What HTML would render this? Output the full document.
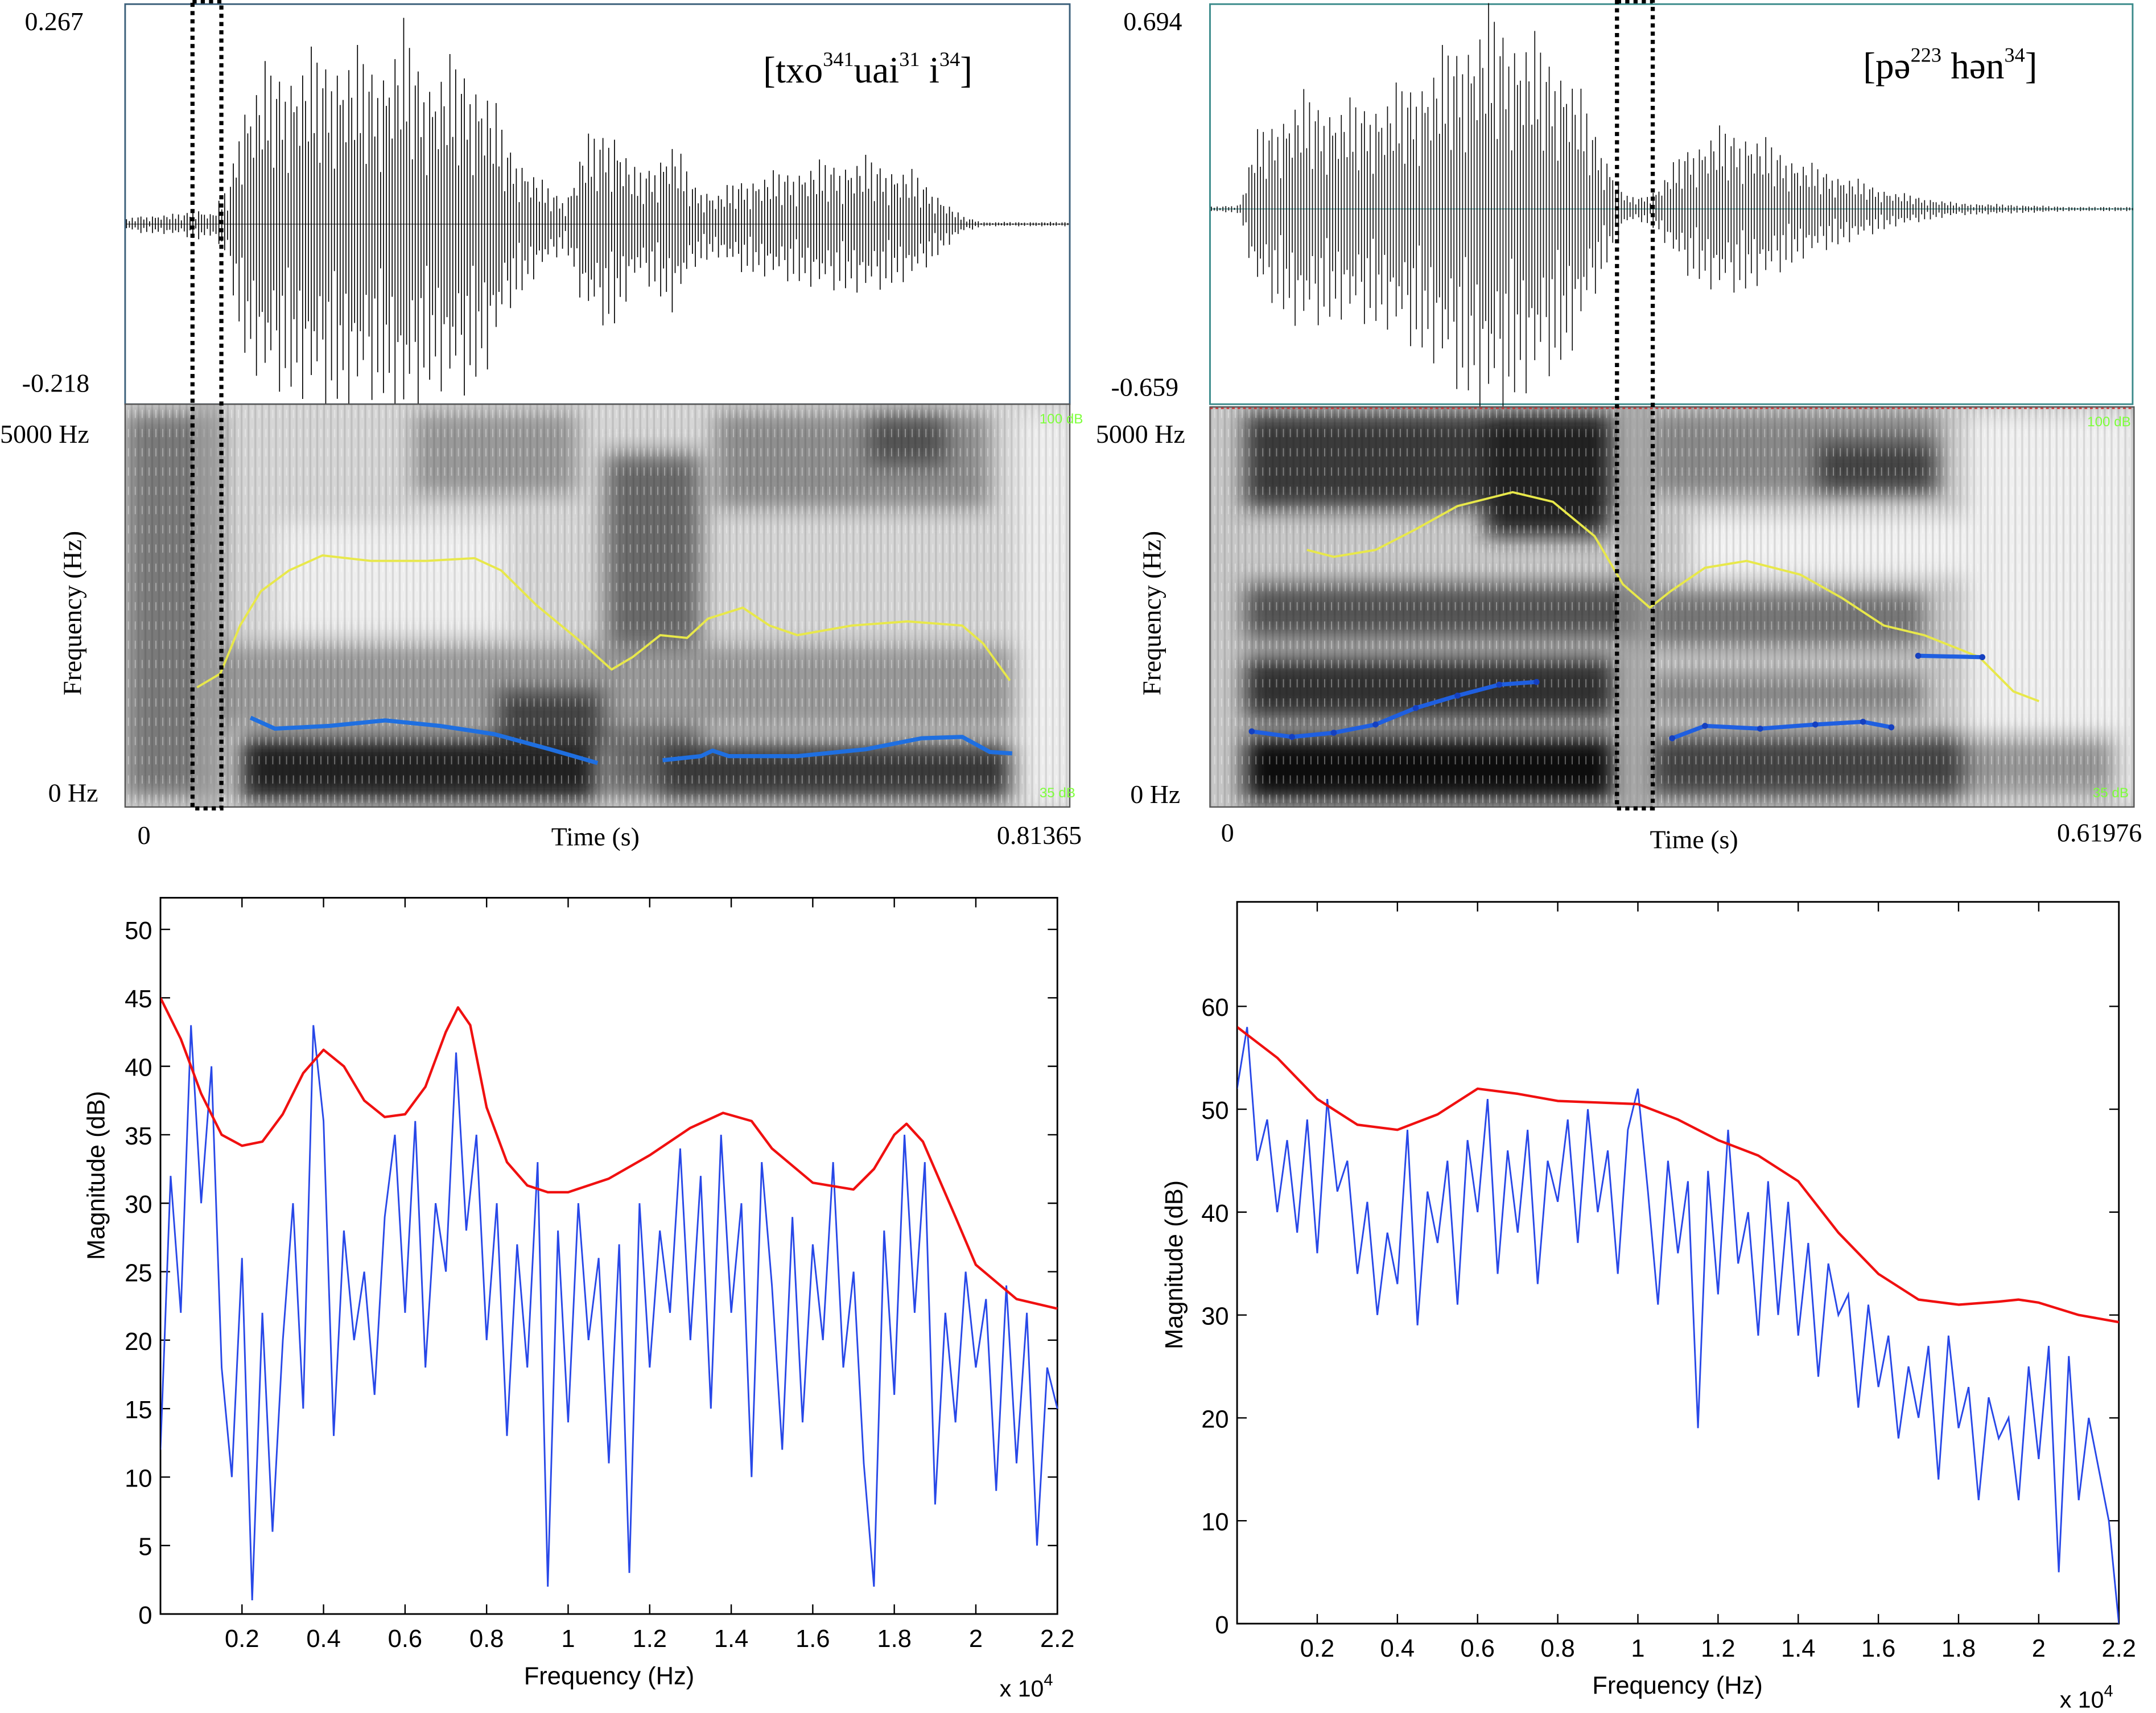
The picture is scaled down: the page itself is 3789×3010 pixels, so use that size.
<!DOCTYPE html>
<html><head><meta charset="utf-8">
<style>
html,body{margin:0;padding:0;background:#fff;}
svg{display:block;}
.serif{font-family:"Liberation Serif",serif;}
.sans{font-family:"Liberation Sans",sans-serif;}
</style></head>
<body>
<svg id="fig" width="3789" height="3010" viewBox="0 0 1568 1246" preserveAspectRatio="none" xmlns="http://www.w3.org/2000/svg">
<defs>
<filter id="blur6" x="-30%" y="-30%" width="160%" height="160%"><feGaussianBlur stdDeviation="8"/></filter>
<pattern id="stria" width="5" height="14" patternUnits="userSpaceOnUse">
<rect width="5" height="14" fill="none"/>
<rect x="0" y="0" width="1.4" height="14" fill="#000" opacity="0.1"/>
<rect x="3" y="4" width="0.8" height="6" fill="#fff" opacity="0.35"/>
</pattern>
<clipPath id="clipSL"><rect x="91" y="294" width="687" height="293"/></clipPath>
<clipPath id="clipSR"><rect x="880" y="296" width="672" height="291"/></clipPath>
<clipPath id="clipBL"><rect x="117" y="653" width="654" height="521"/></clipPath>
<clipPath id="clipBR"><rect x="900" y="656" width="641" height="525"/></clipPath>
</defs>

<g>
<rect x="91" y="3" width="687" height="291" fill="#fff" stroke="#3b5f7a" stroke-width="1.2"/>
<line x1="91" y1="163" x2="778" y2="163" stroke="#666" stroke-width="0.6"/>
<g id="wavL"></g>
<text x="18" y="22" font-size="19" class="serif">0.267</text>
<text x="16" y="285" font-size="19" class="serif">-0.218</text>
<text x="555" y="60" font-size="27" class="serif">[txo<tspan font-size="15" dy="-12">341</tspan><tspan dy="12">uai</tspan><tspan font-size="15" dy="-12">31</tspan><tspan dy="12"> i</tspan><tspan font-size="15" dy="-12">34</tspan><tspan dy="12">]</tspan></text>
</g>

<g>
<g clip-path="url(#clipSL)">
<rect x="91" y="294" width="687" height="293" fill="#d6d6d6"/>
<g filter="url(#blur6)">
<rect x="91" y="300" width="70" height="280" fill="#7a7a7a"/>
<rect x="300" y="300" width="120" height="60" fill="#9a9a9a"/>
<rect x="440" y="330" width="70" height="250" fill="#6a6a6a"/>
<rect x="520" y="300" width="200" height="70" fill="#8f8f8f"/>
<rect x="630" y="300" width="60" height="40" fill="#555"/>
<rect x="160" y="470" width="600" height="60" fill="#9a9a9a"/>
<rect x="175" y="535" width="260" height="48" fill="#202020"/>
<rect x="480" y="540" width="260" height="42" fill="#3a3a3a"/>
<rect x="360" y="500" width="80" height="40" fill="#444"/>
<rect x="200" y="380" width="170" height="80" fill="#efefef"/>
<rect x="740" y="300" width="40" height="285" fill="#eeeeee"/>
</g>
<rect x="91" y="294" width="687" height="293" fill="url(#stria)"/>
<rect x="140" y="294" width="21" height="293" fill="#aaa" opacity="0.6"/>
<g id="specL"></g>
</g>
<rect x="91" y="294" width="687" height="293" fill="none" stroke="#555" stroke-width="1"/>
<text x="756" y="308" font-size="10" fill="#7dff3a" class="sans">100 dB</text>
<text x="756" y="580" font-size="10" fill="#7dff3a" class="sans">35 dB</text>
<text x="0" y="322" font-size="19" class="serif">5000 Hz</text>
<text x="35" y="583" font-size="19" class="serif">0 Hz</text>
<text transform="translate(59,446) rotate(-90)" text-anchor="middle" font-size="19" class="serif">Frequency (Hz)</text>
<text x="100" y="614" font-size="19" class="serif">0</text>
<text x="433" y="615" font-size="19" text-anchor="middle" class="serif">Time (s)</text>
<text x="725" y="614" font-size="19" class="serif">0.81365</text>
</g>
<rect x="140" y="1" width="21" height="587" fill="none" stroke="#000" stroke-width="3" stroke-dasharray="3,3"/>

<g>
<rect x="880" y="3" width="671" height="291" fill="#fff" stroke="#3a8a8a" stroke-width="1.2"/>
<line x1="880" y1="152" x2="1551" y2="152" stroke="#6aa" stroke-width="0.8"/>
<g id="wavR"></g>
<text x="817" y="22" font-size="19" class="serif">0.694</text>
<text x="808" y="288" font-size="19" class="serif">-0.659</text>
<text x="1355" y="57" font-size="27" class="serif">[pə<tspan font-size="15" dy="-12">223</tspan><tspan dy="12"> hən</tspan><tspan font-size="15" dy="-12">34</tspan><tspan dy="12">]</tspan></text>
</g>

<g>
<g clip-path="url(#clipSR)">
<rect x="880" y="296" width="672" height="291" fill="#c8c8c8"/>
<g filter="url(#blur6)">
<rect x="905" y="300" width="270" height="70" fill="#3a3a3a"/>
<rect x="1080" y="300" width="90" height="90" fill="#202020"/>
<rect x="905" y="425" width="290" height="40" fill="#555"/>
<rect x="905" y="478" width="270" height="45" fill="#303030"/>
<rect x="905" y="535" width="270" height="48" fill="#101010"/>
<rect x="1200" y="300" width="210" height="60" fill="#8a8a8a"/>
<rect x="1320" y="320" width="90" height="40" fill="#444"/>
<rect x="1200" y="430" width="200" height="40" fill="#777"/>
<rect x="1200" y="490" width="200" height="30" fill="#888"/>
<rect x="1200" y="535" width="230" height="45" fill="#444"/>
<rect x="1430" y="300" width="125" height="285" fill="#f0f0f0"/>
<rect x="1230" y="375" width="200" height="45" fill="#f2f2f2"/>
<rect x="1430" y="535" width="110" height="45" fill="#999"/>
</g>
<rect x="880" y="296" width="672" height="291" fill="url(#stria)"/>
<rect x="1176" y="296" width="26" height="291" fill="#999" opacity="0.6"/>
<g id="specR"></g>
</g>
<rect x="880" y="296" width="672" height="291" fill="none" stroke="#555" stroke-width="1"/>
<line x1="880" y1="297" x2="1552" y2="297" stroke="#c33" stroke-width="1" stroke-dasharray="2,2"/>
<text x="1518" y="310" font-size="10" fill="#7dff3a" class="sans">100 dB</text>
<text x="1522" y="580" font-size="10" fill="#7dff3a" class="sans">35 dB</text>
<text x="797" y="322" font-size="19" class="serif">5000 Hz</text>
<text x="822" y="584" font-size="19" class="serif">0 Hz</text>
<text transform="translate(844,446) rotate(-90)" text-anchor="middle" font-size="19" class="serif">Frequency (Hz)</text>
<text x="888" y="612" font-size="19" class="serif">0</text>
<text x="1232" y="617" font-size="19" text-anchor="middle" class="serif">Time (s)</text>
<text x="1496" y="612" font-size="19" class="serif">0.61976</text>
</g>
<rect x="1176" y="1" width="26" height="587" fill="none" stroke="#000" stroke-width="3" stroke-dasharray="3,3"/>

<g id="plotL"></g>
<g id="plotR"></g>
</svg>

<script>
const blueStep = 0.025;
const blueLeft = [12,32,22,43,30,40,18,10,26,1,22,6,20,30,15,43,36,13,28,20,25,16,29,35,22,36,18,30,25,41,28,35,20,30,13,27,18,33,2,28,14,30,20,26,11,27,3,30,18,28,22,34,20,32,15,35,22,30,10,33,24,12,29,14,27,20,33,18,25,11,2,28,16,35,22,33,8,22,14,25,18,23,9,24,11,22,5,18,15];
const blueRight = [52,58,45,49,40,47,38,49,36,51,42,45,34,41,30,38,33,48,29,42,37,45,31,47,40,51,34,46,38,48,33,45,41,49,37,50,40,46,34,48,52,42,31,45,36,43,19,44,32,48,35,40,28,43,30,41,28,37,24,35,30,32,21,31,23,28,18,25,20,27,14,28,19,23,12,22,18,20,12,25,16,27,5,26,12,20,15,10,0];
const redLeftF = [0,0.05,0.1,0.15,0.2,0.25,0.3,0.35,0.4,0.45,0.5,0.55,0.6,0.65,0.7,0.73,0.76,0.8,0.85,0.9,0.95,1.0,1.1,1.2,1.3,1.38,1.45,1.5,1.6,1.7,1.75,1.8,1.83,1.87,1.95,2.0,2.1,2.2];
const redLeftDb = [45,42,38,35,34.2,34.5,36.5,39.5,41.2,40,37.5,36.3,36.5,38.5,42.5,44.3,43,37,33,31.3,30.8,30.8,31.8,33.5,35.5,36.6,36,34,31.5,31,32.5,35,35.8,34.5,29,25.5,23,22.3];
const redRightF = [0,0.1,0.2,0.3,0.4,0.5,0.6,0.7,0.8,1.0,1.1,1.2,1.3,1.4,1.5,1.6,1.7,1.8,1.9,1.95,2.0,2.1,2.2];
const redRightDb = [58,55,51,48.5,48,49.5,52,51.5,50.8,50.5,49,47,45.5,43,38,34,31.5,31,31.3,31.5,31.2,30,29.3];
const xTicks = [0.2,0.4,0.6,0.8,1,1.2,1.4,1.6,1.8,2,2.2];
const yTicksLeft = [0,5,10,15,20,25,30,35,40,45,50];
const yTicksRight = [0,10,20,30,40,50,60];

const yellowLeftT = [62,82,99,117,141,170,212,259,301,324,354,390,419,437,461,484,502,532,555,579,626,674,721,739,762];
const yellowLeftHz = [1495,1667,2268,2697,2955,3144,3075,3075,3110,2955,2526,2096,1718,1873,2148,2113,2354,2491,2268,2148,2268,2319,2268,2044,1581];
const blueLeftT1 = [108,129,176,224,271,318,366,407];
const blueLeftHz1 = [1117,979,1014,1082,1014,911,722,550];
const blueLeftT2 = [463,496,506,520,579,638,686,721,745,764];
const blueLeftHz2 = [584,636,704,636,636,722,859,876,687,670];
const yellowRightT = [65,83,111,138,166,203,230,258,277,295,309,332,360,396,424,452,479,516,539,556];
const yellowRightHz = [3213,3127,3213,3470,3762,3934,3814,3385,2783,2491,2697,2989,3075,2903,2611,2268,2148,1873,1443,1323];
const blueRightT1 = [28,55,83,111,138,166,194,219];
const blueRightHz1 = [945,876,928,1031,1237,1392,1529,1563];
const blueRightT2 = [310,332,369,406,438,457];
const blueRightHz2 = [859,1014,979,1031,1065,996];
const blueRightT3 = [475,518];
const blueRightHz3 = [1890,1873];

const envLeftT = [0,10,50,60,75,90,100,120,150,180,220,240,260,290,310,330,360,380,395,420,440,455,470,490,510,530,560,600,640,680,700,720,740,760,800,813];
const envLeftA = [0.02,0.04,0.05,0.08,0.05,0.2,0.6,0.75,0.8,0.85,0.8,0.95,0.75,0.8,0.7,0.4,0.2,0.12,0.4,0.5,0.25,0.3,0.42,0.2,0.15,0.22,0.25,0.3,0.32,0.25,0.15,0.04,0.01,0.01,0.01,0.01];
const envRightT = [0,20,30,60,90,120,150,170,190,210,240,255,270,280,290,300,320,340,360,380,400,430,460,500,540,580,620];
const envRightA = [0.01,0.02,0.35,0.55,0.5,0.55,0.7,0.85,0.95,0.85,0.7,0.45,0.2,0.06,0.06,0.1,0.3,0.38,0.38,0.3,0.22,0.15,0.08,0.03,0.02,0.01,0.01];
const wavePattern = [1,0.6,0.9,0.4,0.75,1,0.5,0.85,0.3,0.95,0.65,0.8,0.45,1,0.7,0.55];

const NS = "http://www.w3.org/2000/svg";
function mk(tag, attrs, parent){ const e=document.createElementNS(NS,tag); for(const k in attrs) e.setAttribute(k,attrs[k]); parent.appendChild(e); return e; }
function interp(ts, as, t){ if(t<=ts[0]) return as[0]; for(let i=1;i<ts.length;i++){ if(t<=ts[i]){ const f=(t-ts[i-1])/(ts[i]-ts[i-1]); return as[i-1]+f*(as[i]-as[i-1]); } } return as[as.length-1]; }

function drawWave(g, x0, x1, dur, cy, halfH, envT, envA, color){
  let d = "";
  let k = 0;
  for(let x=x0+1; x<x1; x+=2.1){
    const t = (x-x0)/(x1-x0)*dur;
    const a = interp(envT, envA, t) * halfH * wavePattern[k % wavePattern.length];
    const s = (k%2===0)?1:-1;
    d += "M"+x.toFixed(1)+" "+(cy - s*a).toFixed(1)+"L"+x.toFixed(1)+" "+(cy + s*a*0.85).toFixed(1);
    k++;
  }
  const p = mk("path", {d:d, stroke:color, "stroke-width":"0.7", fill:"none"}, g);
  
  
}
drawWave(document.getElementById("wavL"), 91, 778, 813.65, 163, 158, envLeftT, envLeftA, "#000");
drawWave(document.getElementById("wavR"), 880, 1551, 619.76, 152, 160, envRightT, envRightA, "#111");

function contour(g, ts, hzs, x0, x1, dur, color, w, name, marks){
  const sx = t => x0 + t/dur*(x1-x0);
  const sy = hz => 587 - hz/5000*291;
  let d = ts.map((t,i)=>(i?"L":"M")+sx(t).toFixed(1)+" "+sy(hzs[i]).toFixed(1)).join("");
  const p = mk("path", {d:d, stroke:color, "stroke-width":w, fill:"none", "stroke-linejoin":"round"}, g);
  
  
  if(marks){ ts.forEach((t,i)=>{ const c=mk("circle",{cx:sx(t),cy:sy(hzs[i]),r:2.2,fill:"#1540c0"},g);
    
     }); }
}
const gL = document.getElementById("specL");
contour(gL, yellowLeftT, yellowLeftHz, 91, 778, 813.65, "#e8e84a", 1.6, "pitch-contour-left", false);
contour(gL, blueLeftT1, blueLeftHz1, 91, 778, 813.65, "#1f6fe0", 3, "formant-contour-left-1", false);
contour(gL, blueLeftT2, blueLeftHz2, 91, 778, 813.65, "#1f6fe0", 3, "formant-contour-left-2", false);
const gR = document.getElementById("specR");
contour(gR, yellowRightT, yellowRightHz, 880, 1552, 619.76, "#e8e84a", 1.6, "pitch-contour-right", false);
contour(gR, blueRightT1, blueRightHz1, 880, 1552, 619.76, "#1f5fe0", 3, "formant-contour-right-1", true);
contour(gR, blueRightT2, blueRightHz2, 880, 1552, 619.76, "#1f5fe0", 3, "formant-contour-right-2", true);
contour(gR, blueRightT3, blueRightHz3, 880, 1552, 619.76, "#1f5fe0", 3, "formant-contour-right-3", true);

function plot(g, box, yMax, yTicks, blue, redF, redDb, clipId, ylabX, ylabY, xlabX, xlabY, expX, expY){
  const X = f => box.x0 + f/2.2*(box.x1-box.x0);
  const Y = v => box.y0v - v/yMax*(box.y0v-box.yMaxPx);
  mk("rect",{x:box.x0,y:box.top,width:box.x1-box.x0,height:box.bottom-box.top,fill:"#fff",stroke:"#000","stroke-width":1.2},g);
  xTicks.forEach(t=>{
    const x = X(t);
    mk("line",{x1:x,y1:box.bottom,x2:x,y2:box.bottom-7,stroke:"#000","stroke-width":1},g);
    mk("line",{x1:x,y1:box.top,x2:x,y2:box.top+7,stroke:"#000","stroke-width":1},g);
    const tl = mk("text",{x:x,y:box.bottom+24,"font-size":18,"text-anchor":"middle",class:"sans"},g);
    tl.textContent = t;
    
    
  });
  yTicks.forEach(v=>{
    const y = Y(v);
    mk("line",{x1:box.x0,y1:y,x2:box.x0+7,y2:y,stroke:"#000","stroke-width":1},g);
    mk("line",{x1:box.x1,y1:y,x2:box.x1-7,y2:y,stroke:"#000","stroke-width":1},g);
    const tl = mk("text",{x:box.x0-6,y:y+7,"font-size":18,"text-anchor":"end",class:"sans"},g);
    tl.textContent = v;
    
    
  });
  const cg = mk("g",{"clip-path":"url(#"+clipId+")"},g);
  const bd = blue.map((v,i)=>(i?"L":"M")+X(i*blueStep).toFixed(1)+" "+Y(v).toFixed(1)).join("");
  const bp = mk("path",{d:bd,stroke:"#2848e8","stroke-width":1.2,fill:"none"},cg);
  
  
  const rd = redF.map((f,i)=>(i?"L":"M")+X(f).toFixed(1)+" "+Y(redDb[i]).toFixed(1)).join("");
  const rp = mk("path",{d:rd,stroke:"#f01010","stroke-width":1.8,fill:"none","stroke-linejoin":"round"},cg);
  
  
  const yl = mk("text",{transform:"translate("+ylabX+","+ylabY+") rotate(-90)","font-size":18,"text-anchor":"middle",class:"sans"},g);
  yl.textContent = "Magnitude (dB)";
  
  
  const xl = mk("text",{x:xlabX,y:xlabY,"font-size":18,"text-anchor":"middle",class:"sans"},g);
  xl.textContent = "Frequency (Hz)";
  
  
  const ex = mk("text",{x:expX,y:expY,"font-size":17,class:"sans"},g);
  ex.innerHTML = 'x 10<tspan font-size="12" dy="-8">4</tspan>';
  
  
}
plot(document.getElementById("plotL"), {x0:116.7,x1:769,top:653,bottom:1174,y0v:1174,yMaxPx:676}, 50, yTicksLeft, blueLeft, redLeftF, redLeftDb, "clipBL", 76, 855, 443, 1225, 727, 1234);
plot(document.getElementById("plotR"), {x0:899.7,x1:1541,top:656,bottom:1181,y0v:1181,yMaxPx:732}, 60, yTicksRight, blueRight, redRightF, redRightDb, "clipBR", 860, 920, 1220, 1232, 1498, 1242);
</script>
</body></html>
